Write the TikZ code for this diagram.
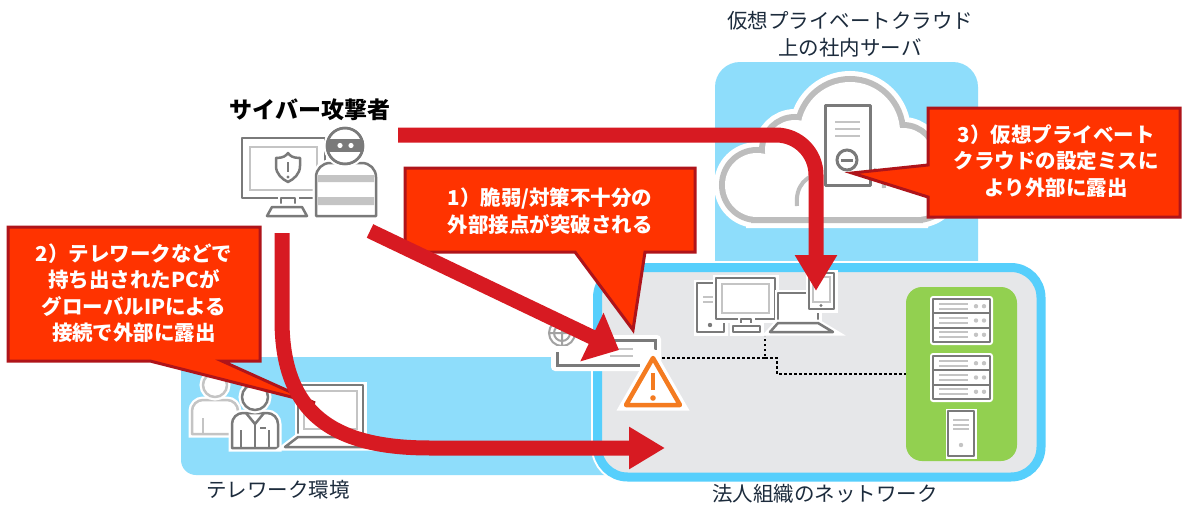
\documentclass[tikz,border=0pt]{standalone}
\usepackage{fontspec}
\newfontfamily\jp{Noto Sans CJK JP}
\usetikzlibrary{arrows.meta}
\definecolor{skyfill}{HTML}{8EDDFB}
\definecolor{netedge}{HTML}{56CFFC}
\definecolor{netfill}{HTML}{E6E7E9}
\definecolor{srvgreen}{HTML}{92D050}
\definecolor{calloutfill}{HTML}{FF3300}
\definecolor{calloutedge}{HTML}{AF141A}
\definecolor{attackred}{HTML}{D71A22}
\definecolor{icondark}{HTML}{7A7A7A}
\definecolor{iconlight}{HTML}{C4C4C4}
\definecolor{cloudgray}{HTML}{BDBDBD}
\definecolor{warnorange}{HTML}{F47B20}
\definecolor{navy}{HTML}{1C2B3C}
\begin{document}
\begin{tikzpicture}[x=1pt,y=-1pt,
  attack/.style={draw=attackred, line width=15pt},
  callout/.style={fill=calloutfill, draw=calloutedge, line width=3pt, line join=miter},
  callouttext/.style={text=white, font=\jp\bfseries\fontsize{20.5}{26.5}\selectfont, align=center, inner sep=0pt},
  areatext/.style={text=navy, font=\jp\fontsize{20.5}{27}\selectfont, align=center, inner sep=0pt},
  halo/.style={preaction={draw=white, line width=#1}}, halo/.default=7pt,
  iconline/.style={draw=icondark, line width=2.5pt, fill=white, line join=round},
  backline/.style={draw=iconlight, line width=2.5pt, fill=white, line join=round},
  thinlight/.style={draw=iconlight, line width=2pt},
  netlink/.style={draw=black, line width=2.5pt, dash pattern=on 2.5pt off 2.5pt},
]
\useasboundingbox (0,0) rectangle (1184,506);
\fill[white] (0,0) rectangle (1184,506);

% ---------- area backgrounds ----------
\fill[skyfill, rounded corners=15pt] (181,357) rectangle (640,475);
\fill[skyfill, rounded corners=25pt] (715,62) rectangle (978,300);
\draw[netedge, fill=netfill, line width=9pt, rounded corners=30pt, halo=13pt]
  (597.5,267.5) rectangle (1041,477);
\fill[srvgreen, rounded corners=16pt] (906,287) rectangle (1017,461);

% ---------- server racks ----------
\foreach \ry in {299,356}{
  \fill[white, rounded corners=3pt] (930,\ry-3) rectangle (993,\ry+46);
  \foreach \k in {0,1,2}{
    \draw[iconline, line width=2pt] (933,\ry+\k*14.3) rectangle (990,\ry+\k*14.3+14.3);
    \draw[thinlight] (939,\ry+\k*14.3+4.8) -- (968,\ry+\k*14.3+4.8)
                     (939,\ry+\k*14.3+9.5) -- (968,\ry+\k*14.3+9.5);
    \fill[iconlight] (976,\ry+\k*14.3+7.2) circle[radius=2.2]
                     (984,\ry+\k*14.3+7.2) circle[radius=2.2];
  }
}
\draw[iconline, line width=2pt, halo=5pt] (948,411) rectangle (974,456);
\draw[thinlight] (953,420) -- (969,420) (953,424.5) -- (969,424.5) (953,429) -- (969,429);
\fill[iconlight] (961,445) circle[radius=2.2];

% ---------- cloud (union of lobes, outlined) ----------
\foreach \w/\c in {22/white, 12/cloudgray}{
  \draw[\c, line width=\w pt] (757,185) circle[radius=32] (795,150) circle[radius=30]
     (850,132) circle[radius=50] (903,158) circle[radius=30] (917,182) circle[radius=35]
     (757,160) rectangle (917,217);
}
\fill[white] (757,185) circle[radius=32];
\fill[white] (795,150) circle[radius=30];
\fill[white] (850,132) circle[radius=50];
\fill[white] (903,158) circle[radius=30];
\fill[white] (917,182) circle[radius=35];
\fill[white] (757,160) rectangle (917,217);
\draw[cloudgray, line width=4pt] (797,206) .. controls (795,186) and (806,174) .. (825,173);
\draw[cloudgray, line width=4pt] (870,169) .. controls (880,170) and (884,178) .. (884,188);
% server in the cloud
\draw[iconline, line width=3pt, halo] (825,105) rectangle (870,185);
\draw[thinlight, line width=2.5pt] (835,122) -- (860,122) (835,129) -- (860,129) (835,136) -- (860,136);
\draw[icondark, line width=3pt, fill=white] (847,160) circle[radius=10];
\draw[icondark, line width=3pt] (841,160) -- (853,160);

% ---------- attacker ----------
\draw[iconline, halo] (242,138) rectangle (325,198);
\draw[thinlight] (250,147) rectangle (317,190);
\draw[icondark, line width=2.5pt, line join=round] (276,158) .. controls (283,158) and (286,156) .. (288,153)
  .. controls (290,156) and (293,158) .. (300,158) -- (300,166)
  .. controls (300,174) and (294,179) .. (288,182) .. controls (282,179) and (276,174) .. (276,166) -- cycle;
\draw[icondark, line width=2.5pt] (288,162) -- (288,172);
\fill[icondark] (288,177) circle[radius=1.7];
\draw[iconline, halo] (281,198) rectangle (295,207);
\draw[iconline, halo] (272,207) -- (302,207) -- (307,216) -- (267,216) -- cycle;
% hooded figure
\draw[white, line width=7pt] (316,216) {[rounded corners=14pt] -- (316,163) -- (376,163)} -- (376,216) -- cycle;
\fill[white] (316,216) {[rounded corners=14pt] -- (316,163) -- (376,163)} -- (376,216) -- cycle;
\fill[iconlight] (318,175) rectangle (374,182) (318,197) rectangle (374,205);
\draw[icondark, line width=2.5pt, line join=round] (316,216) {[rounded corners=14pt] -- (316,163) -- (376,163)} -- (376,216) -- cycle;
\draw[iconline, halo] (345,146) circle[radius=18];
\begin{scope}
  \clip (345,146) circle[radius=18];
  \fill[icondark] (320,139) rectangle (370,152);
\end{scope}
\fill[white] (340,145.5) circle[radius=2.6] (351,145.5) circle[radius=2.6];
\draw[icondark, line width=2.5pt] (345,146) circle[radius=18];

% ---------- telework icons ----------
\draw[backline, halo] (192,434) {[rounded corners=11pt] -- (192,400) -- (238,400)} -- (238,434) -- cycle;
\draw[backline, halo] (215,385) circle[radius=12];
\draw[iconlight, line width=2.5pt] (203,418) -- (203,434);
\draw[iconline, halo] (232,448) {[rounded corners=11pt] -- (232,413) -- (278,413)} -- (278,448) -- cycle;
\draw[iconline, halo] (255,397) circle[radius=13];
\draw[icondark, line width=2.5pt, line join=round] (246,413) -- (255,424) -- (264,413);
\draw[icondark, line width=2.5pt] (241,430) -- (241,448) (269,430) -- (269,448) (255,424) -- (255,448);
\draw[icondark, line width=2pt] (260,428) -- (266,428);
\draw[iconline, halo] (298,385) rectangle (363,435);
\draw[thinlight] (304,391) rectangle (357,429);
\draw[iconline, halo] (298,437) -- (363,437) -- (368,447) -- (285,447) -- cycle;

% ---------- office devices ----------
\draw[iconline, halo] (697,283) rectangle (724,332);
\draw[thinlight] (703,297) -- (716,297) (703,302) -- (716,302);
\fill[icondark] (710,325) circle[radius=2.2];
\draw[iconline, halo] (716,278) rectangle (775,319);
\draw[thinlight] (722,284) rectangle (769,313);
\draw[iconline, halo] (741,319) rectangle (751,326);
\draw[iconline, halo] (733,326) rectangle (760,332);
\draw[iconline, halo] (778,293) rectangle (818,323);
\draw[iconline, halo] (778,323) -- (818,323) -- (833,332) -- (770,332) -- cycle;
\draw[iconline, halo] (809,273) rectangle (834,309);
\draw[thinlight] (813,277) rectangle (830,302);
\fill[icondark] (821,305.5) circle[radius=1.6];

% ---------- gateway appliance ----------
\fill[white] (562,333) circle[radius=16];
\draw[icondark!70, line width=2pt] (562,333) circle[radius=13] (562,333) circle[radius=8]
  (549,333) -- (575,333) (562,320) -- (562,346);
\fill[white, rounded corners=4pt] (603,335) -- (661,335) -- (661,371) -- (551,371) -- (551,346) -- (603,346) -- cycle;
\draw[icondark, line width=3pt] (608,340) -- (655,340) -- (655,350);
\draw[icondark, line width=3pt] (557,352) -- (557,365) -- (640,365);
\draw[thinlight, line width=2.5pt] (614,349) -- (633,349) (610,356) -- (633,356);

% ---------- network links ----------
\coordinate (warnR) at (662,358);
\coordinate (deskJ) at (765,358);
\coordinate (deskUp) at (765,336);
\coordinate (srvIn) at (906,374);
\draw[netlink] (warnR) -- (deskJ) -- (deskUp);
\draw[netlink] (deskJ) -- (777,358) |- (srvIn);

% ---------- warning sign ----------
\draw[warnorange, line width=4.5pt, fill=white, line join=round, halo=11pt]
  (653,358) -- (680,405) -- (626,405) -- cycle;
\draw[warnorange, line width=4.5pt] (653,373) -- (653,390);
\fill[warnorange] (653,398) circle[radius=2.8];

% ---------- labels ----------
\node[font=\jp\bfseries\fontsize{23}{28}\selectfont, inner sep=0pt] (attackerlabel) at (310,110) {サイバー攻撃者};
\node[areatext] (cloudlabel) at (850,34) {仮想プライベートクラウド\\上の社内サーバ};
\node[areatext] (telelabel) at (278,490) {テレワーク環境};
\node[areatext] (netlabel) at (825,494) {法人組織のネットワーク};

% ---------- callouts ----------
\draw[callout] (405,168) -- (695,168) -- (695,252) -- (645,252) -- (633,330) -- (575,252) -- (405,252) -- cycle;
\node[callouttext] (c1text) at (550,211) {1）脆弱/対策不十分の\\外部接点が突破される};
\draw[callout] (8,227) -- (260,227) -- (260,361) -- (222,361) -- (315,403) -- (150,361) -- (8,361) -- cycle;
\node[callouttext] (c2text) at (134,293) {2）テレワークなどで\\持ち出されたPCが\\グローバルIPによる\\接続で外部に露出};
\draw[callout] (928,108) -- (1180,108) -- (1180,217) -- (928,217) -- (928,197) -- (852,173) -- (928,165) -- cycle;
\node[callouttext] (c3text) at (1056,161) {3）仮想プライベート\\クラウドの設定ミスに\\より外部に露出};

% ---------- attack paths ----------
\coordinate (atkA) at (398,135);
\coordinate (tabletTop) at (816,291);
\coordinate (atkB) at (370,231);
\coordinate (gateTip) at (619,350);
\coordinate (atkC) at (282,233);
\coordinate (lanTip) at (665,448);
\draw[attack, -{Triangle[length=36pt,width=40pt]}, rounded corners=40pt] (atkA) -| (tabletTop);
\draw[attack, -{Triangle[length=30pt,width=52pt]}] (atkB) -- (gateTip);
\draw[attack, -{Triangle[length=36pt,width=40pt]}] (atkC) -- (282,320)
  .. controls (282,415) and (335,448) .. (430,448) -- (lanTip);
\end{tikzpicture}
\end{document}
